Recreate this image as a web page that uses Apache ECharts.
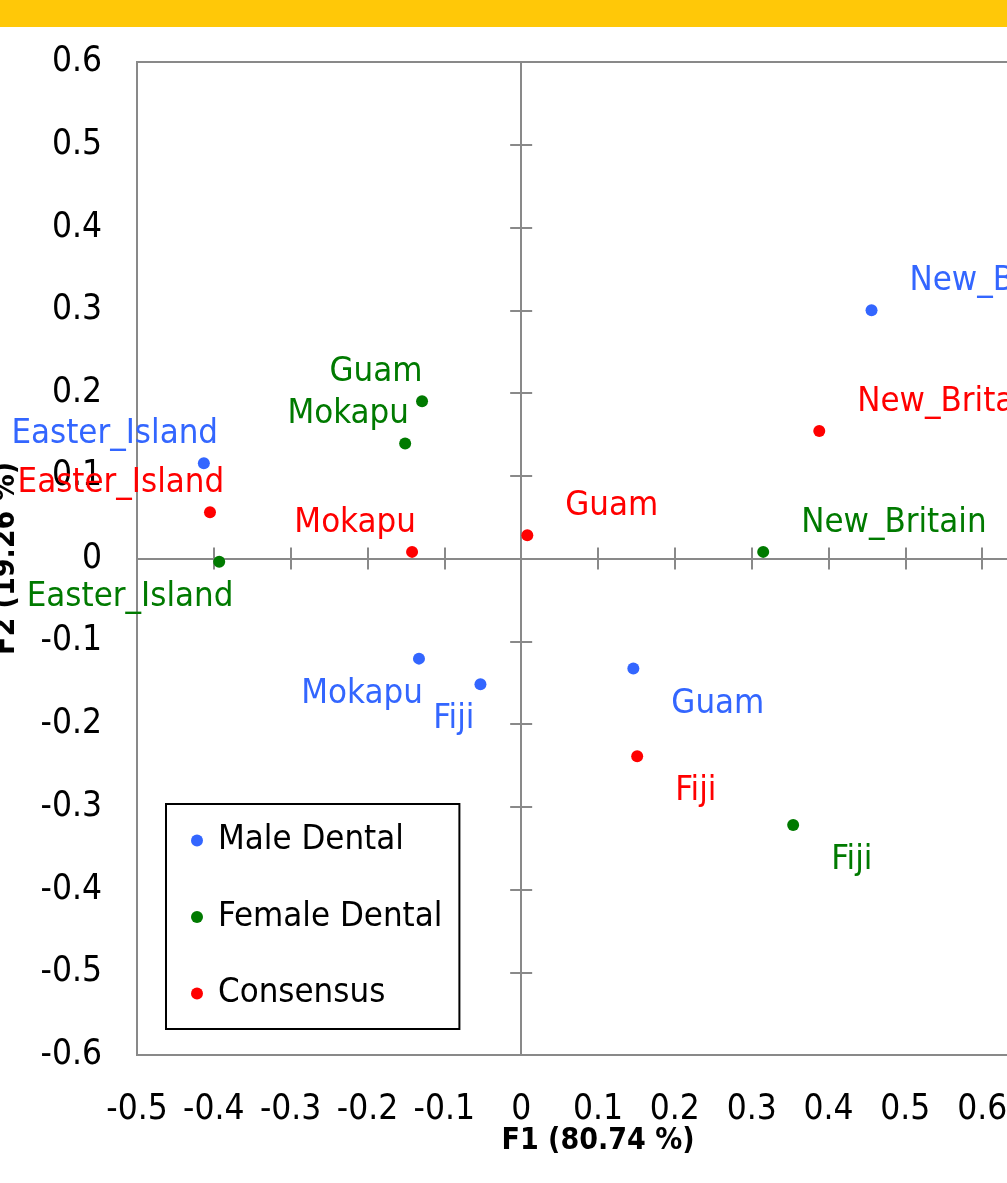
<!DOCTYPE html>
<html>
<head>
<meta charset="utf-8">
<script src="https://cdn.jsdelivr.net/npm/echarts@6/dist/echarts.min.js"></script>
<style>
  html, body { margin: 0; padding: 0; background: #fff; overflow: hidden; }
  #chart { width: 1100px; height: 1183px; }
</style>
</head>
<body>
<div id="chart"></div>
<script>
// Sites shown on the PCA biplot
const sites = ['Easter_Island', 'Mokapu', 'Fiji', 'Guam', 'New_Britain'];

// Factor scores (F1, F2) per site
const maleF1 = [-0.413, -0.133, -0.053, 0.146, 0.456];
const maleF2 = [0.115, -0.121, -0.152, -0.133, 0.300];
const femaleF1 = [-0.393, -0.151, 0.354, -0.129, 0.315];
const femaleF2 = [-0.004, 0.139, -0.322, 0.190, 0.008];
const consensusF1 = [-0.405, -0.142, 0.151, 0.008, 0.388];
const consensusF2 = [0.056, 0.008, -0.239, 0.028, 0.154];

const seriesNames = ['Male Dental', 'Female Dental', 'Consensus'];

// Axis ranges
const xMin = -0.5, xMax = 0.7, xStep = 0.1;
const yMin = -0.6, yMax = 0.6, yStep = 0.1;

// ---- styling ----
const FONT = "'DejaVu Sans Condensed', 'DejaVu Sans', sans-serif";
const LABEL_SIZE = 34.5;
const GRAY = '#898989';
const COLORS = ['#3366FF', '#007A00', '#FF0000'];

// Which side of its dot each site label sits on
const labelCorner = [
  { Easter_Island: 'tl', Mokapu: 'bl', Fiji: 'bl', Guam: 'br', New_Britain: 'tr' },
  { Easter_Island: 'bl', Mokapu: 'tl', Fiji: 'br', Guam: 'tl', New_Britain: 'tr' },
  { Easter_Island: 'tl', Mokapu: 'tl', Fiji: 'br', Guam: 'tr', New_Britain: 'tr' }
];

// text width, used to nudge left-hand labels the way the plot tool does
const measureCtx = document.createElement('canvas').getContext('2d');
measureCtx.font = LABEL_SIZE + 'px ' + FONT;
function textWidth(t) { return measureCtx.measureText(t).width; }

function labelFor(name, corner) {
  const top = corner[0] === 't';
  const left = corner[1] === 'l';
  const dy = top ? -29 : 35;
  if (left) {
    return { align: 'right', offset: [-11 + 0.122 * textWidth(name), dy] };
  }
  return { align: 'left', offset: [38, dy] };
}

function buildData(xs, ys, idx) {
  return sites.map((s, i) => ({
    name: s,
    value: [xs[i], ys[i]],
    label: labelFor(s, labelCorner[idx][s])
  }));
}

const seriesData = [
  buildData(maleF1, maleF2, 0),
  buildData(femaleF1, femaleF2, 1),
  buildData(consensusF1, consensusF2, 2)
];

const chart = echarts.init(document.getElementById('chart'), null, { renderer: 'canvas' });

const baseX = { type: 'value', min: xMin, max: xMax, interval: xStep, splitLine: { show: false } };
const baseY = { type: 'value', min: yMin, max: yMax, interval: yStep, splitLine: { show: false } };
const tickStyle = { color: GRAY, width: 2 };

const option = {
  animation: false,
  backgroundColor: '#fff',
  textStyle: { fontFamily: FONT },
  graphic: [{
    type: 'rect', left: 0, top: 0, z: 100,
    shape: { width: 1100, height: 27 },
    style: { fill: '#FFC808' }
  }],
  grid: {
    left: 137, top: 62, width: 922, height: 993,
    outerBoundsMode: 'none', containLabel: false,
    show: true, borderColor: GRAY, borderWidth: 2, backgroundColor: 'transparent'
  },
  legend: {
    data: seriesNames,
    orient: 'vertical',
    left: 166, top: 804,
    icon: 'circle',
    itemWidth: 32, itemHeight: 12, itemGap: 41.5,
    padding: [19, 17, 18, 25],
    borderColor: '#000', borderWidth: 2,
    textStyle: { fontFamily: FONT, fontSize: 34.5, color: '#000', lineHeight: 34 }
  },
  xAxis: [
    // frame-edge axis carrying the tick labels and the title
    Object.assign({}, baseX, {
      position: 'bottom',
      name: 'F1 (80.74 %)', nameLocation: 'middle', nameGap: 71, nameMoveOverlap: false,
      nameTextStyle: { fontFamily: FONT, fontSize: 30, fontWeight: 'bold', color: '#000' },
      axisLine: { show: false, onZero: false }, axisTick: { show: false },
      axisLabel: { fontFamily: FONT, fontSize: 35, color: '#000', margin: 37 }
    }),
    // zero line with ticks pointing down
    Object.assign({}, baseX, {
      position: 'bottom',
      axisLine: { show: true, onZero: true, onZeroAxisIndex: 0, lineStyle: tickStyle },
      axisTick: { show: true, inside: false, length: 11, lineStyle: tickStyle },
      axisLabel: { show: false }
    }),
    // ticks pointing up from the same zero line
    Object.assign({}, baseX, {
      position: 'top',
      axisLine: { show: false, onZero: true, onZeroAxisIndex: 0 },
      axisTick: { show: true, inside: false, length: 11, lineStyle: tickStyle },
      axisLabel: { show: false }
    })
  ],
  yAxis: [
    Object.assign({}, baseY, {
      position: 'left',
      name: 'F2 (19.26 %)', nameLocation: 'middle', nameGap: 116,
      nameTextStyle: { fontFamily: FONT, fontSize: 30, fontWeight: 'bold', color: '#000' },
      axisLine: { show: false, onZero: false }, axisTick: { show: false },
      axisLabel: { fontFamily: FONT, fontSize: 35, color: '#000', margin: 35 }
    }),
    Object.assign({}, baseY, {
      position: 'left',
      axisLine: { show: true, onZero: true, onZeroAxisIndex: 0, lineStyle: tickStyle },
      axisTick: { show: true, inside: false, length: 11, lineStyle: tickStyle },
      axisLabel: { show: false }
    }),
    Object.assign({}, baseY, {
      position: 'right',
      axisLine: { show: false, onZero: true, onZeroAxisIndex: 0 },
      axisTick: { show: true, inside: false, length: 11, lineStyle: tickStyle },
      axisLabel: { show: false }
    })
  ],
  series: seriesNames.map((name, i) => ({
    name: name,
    type: 'scatter',
    xAxisIndex: 0, yAxisIndex: 0,
    symbol: 'circle', symbolSize: 12,
    itemStyle: { color: COLORS[i], opacity: 1 },
    z: 5,
    label: {
      show: true, position: 'inside', formatter: '{b}',
      verticalAlign: 'middle',
      fontFamily: FONT, fontSize: LABEL_SIZE, color: COLORS[i]
    },
    data: seriesData[i]
  }))
};

chart.setOption(option);
</script>
</body>
</html>
